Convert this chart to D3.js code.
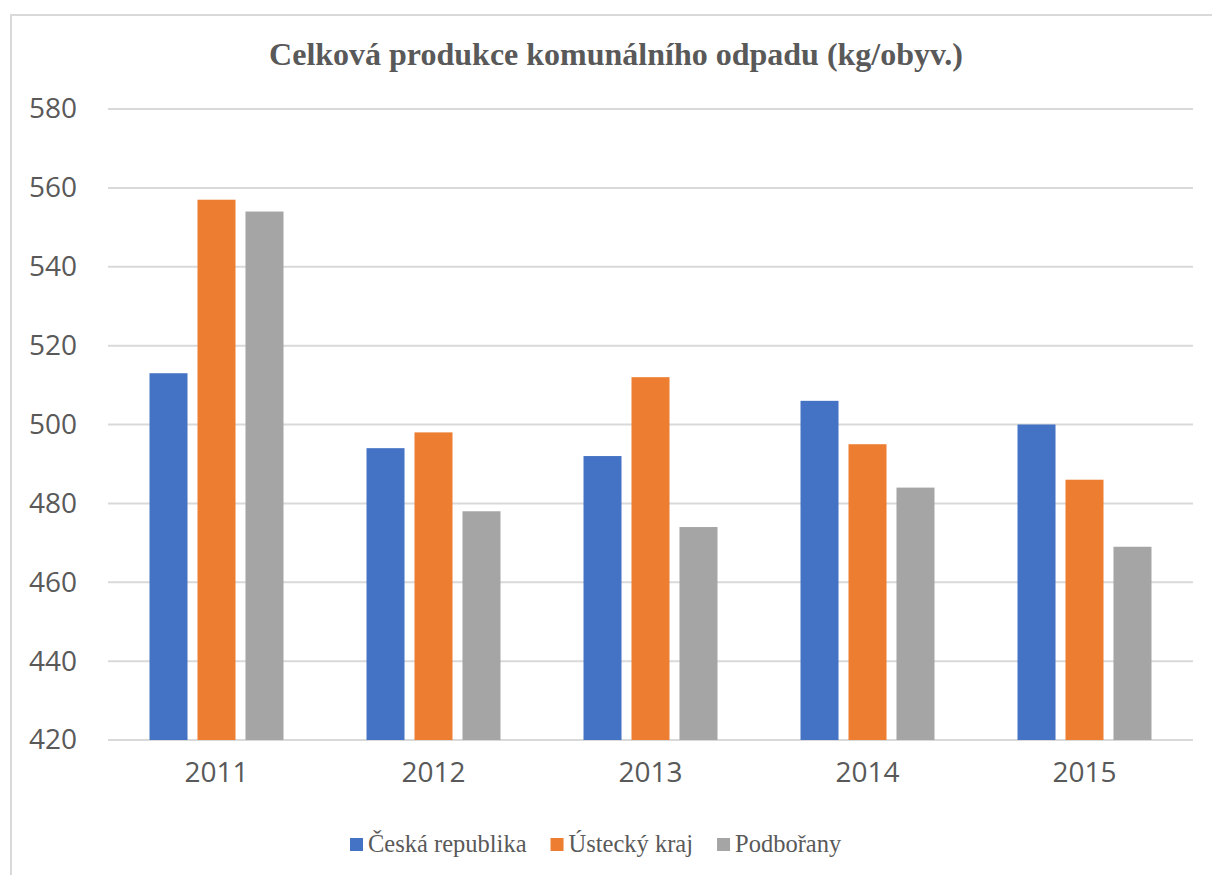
<!DOCTYPE html>
<meta charset="utf-8">
<style>
    body { margin: 0; background: #fff; }
</style>
<svg width="1212" height="875"></svg>
<script src="https://d3js.org/d3.v7.min.js"></script>
<script>
    var years = ["2011", "2012", "2013", "2014", "2015"];
    var seriesNames = ["Česká republika", "Ústecký kraj", "Podbořany"];
    var ceskaRepublika = [513, 494, 492, 506, 500];
    var ustecky = [557, 498, 512, 495, 486];
    var podborany = [554, 478, 474, 484, 469];
    var yTicks = [420, 440, 460, 480, 500, 520, 540, 560, 580];
    var COLORS = ["#4472C4", "#ED7D31", "#A5A5A5"];

    var seriesValues = [ceskaRepublika, ustecky, podborany];
    var rows = years.map(function (y, i) {
        return {year: y, vals: seriesNames.map(function (s, j) {
            return {name: s, idx: j, val: seriesValues[j][i]};
        })};
    });

    var svg = d3.select("svg"),
        LEFT = 108, RIGHT = 1193, TOP = 109, BOTTOM = 740,
        TEXT = "#595959";

    // chart frame
    svg.append("rect")
        .attr("x", 11).attr("y", 15)
        .attr("width", 1240).attr("height", 900)
        .attr("fill", "none")
        .attr("stroke", "#d9d9d9")
        .attr("stroke-width", 2);

    var x0 = d3.scaleBand().domain(years).range([LEFT, RIGHT]),
        x1 = d3.scaleBand().domain(seriesNames)
            .range([0, x0.bandwidth()])
            .paddingInner(0.208)
            .paddingOuter(0.865),
        y = d3.scaleLinear().domain([420, 580]).range([BOTTOM, TOP]),
        color = d3.scaleOrdinal().domain(seriesNames).range(COLORS);

    // grid
    svg.append("g").selectAll("line")
        .data(yTicks)
        .enter().append("line")
        .attr("x1", LEFT).attr("x2", RIGHT)
        .attr("y1", function (d) { return y(d); })
        .attr("y2", function (d) { return y(d); })
        .attr("stroke", "#d9d9d9")
        .attr("stroke-width", 2);

    var yAxis = svg.append("g")
        .attr("transform", "translate(77,0)")
        .call(d3.axisLeft(y).tickValues(yTicks).tickSize(0).tickPadding(0));
    yAxis.select(".domain").remove();
    yAxis.selectAll("text")
        .attr("fill", TEXT)
        .style("font-family", "'Open Sans', sans-serif")
        .style("font-size", "28px");

    // bars
    svg.append("g").selectAll("g")
        .data(rows)
        .enter().append("g")
        .attr("transform", function (d) { return "translate(" + x0(d.year) + ",0)"; })
        .selectAll("rect")
        .data(function (d) { return d.vals; })
        .enter().append("rect")
        .attr("x", function (d) { return x1(d.name); })
        .attr("y", function (d) { return y(d.val); })
        .attr("width", x1.bandwidth())
        .attr("height", function (d) { return BOTTOM - y(d.val); })
        .attr("fill", function (d) { return color(d.name); });

    var xAxis = svg.append("g")
        .attr("transform", "translate(0," + BOTTOM + ")")
        .call(d3.axisBottom(x0).tickSize(0).tickPadding(22));
    xAxis.select(".domain").remove();
    xAxis.selectAll("text")
        .attr("fill", TEXT)
        .style("font-family", "'Open Sans', sans-serif")
        .style("font-size", "28px");

    // title
    svg.append("text")
        .attr("x", 616).attr("y", 65)
        .attr("text-anchor", "middle")
        .attr("fill", TEXT)
        .style("font-family", "'Liberation Serif', 'Times New Roman', serif")
        .style("font-weight", "bold")
        .style("font-size", "32px")
        .text("Celková produkce komunálního odpadu (kg/obyv.)");

    // legend
    var legend = svg.append("g"),
        lx = 350;
    seriesNames.forEach(function (s) {
        var item = legend.append("g").attr("transform", "translate(" + lx + ",0)");
        item.append("rect")
            .attr("x", 0).attr("y", 838)
            .attr("width", 13).attr("height", 13)
            .attr("fill", color(s));
        var t = item.append("text")
            .attr("x", 18).attr("y", 852)
            .attr("fill", TEXT)
            .style("font-family", "'Liberation Serif', 'Times New Roman', serif")
            .style("font-size", "24.5px")
            .text(s);
        lx += 18 + t.node().getComputedTextLength() + 24;
    });
</script>
